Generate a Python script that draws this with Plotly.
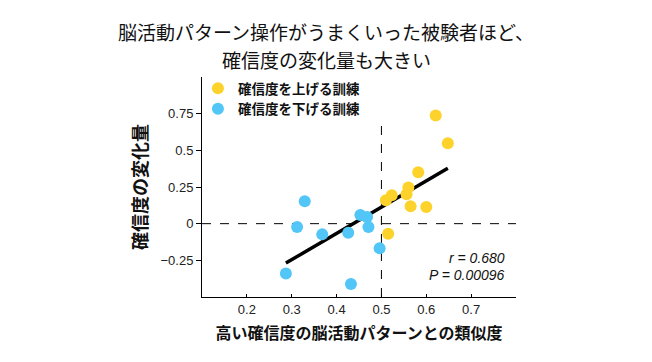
import numpy as np
import plotly.graph_objects as go

# --- data ---
up_x = [0.621, 0.648, 0.582, 0.560, 0.556, 0.523, 0.510, 0.565, 0.600, 0.515]
up_y = [0.737, 0.548, 0.351, 0.246, 0.200, 0.194, 0.160, 0.118, 0.114, -0.068]
down_x = [0.329, 0.312, 0.368, 0.426, 0.453, 0.468, 0.471, 0.496, 0.287, 0.432]
down_y = [0.153, -0.023, -0.073, -0.062, 0.059, 0.045, -0.023, -0.167, -0.340, -0.411]

x_ticks = [0.2, 0.3, 0.4, 0.5, 0.6, 0.7]
x_ticktext = ["0.2", "0.3", "0.4", "0.5", "0.6", "0.7"]
y_ticks = [-0.25, 0, 0.25, 0.5, 0.75]
y_ticktext = ["−0.25", "0", "0.25", "0.5", "0.75"]

title_lines = ["脳活動パターン操作がうまくいった被験者ほど、", "確信度の変化量も大きい"]
legend_names = ["確信度を上げる訓練", "確信度を下げる訓練"]
x_title = "高い確信度の脳活動パターンとの類似度"
y_title = "確信度の変化量"
stats_text = ["r = 0.680", "P = 0.00096"]

YELLOW = "#FDD22B"
BLUE = "#52C6F6"
FONT = "Liberation Sans, Arial, Noto Sans CJK JP"
CJK = "Noto Sans CJK JP, Liberation Sans"

# regression fit from all points
all_x = np.array(up_x + down_x)
all_y = np.array(up_y + down_y)
slope, intercept = np.polyfit(all_x, all_y, 1)
fit_x = np.array([all_x.min(), all_x.max()])
fit_y = slope * fit_x + intercept

L, R, T, B = 202, 136, 77, 65
PW, PH = 652 - L - R, 362 - T - B

fig = go.Figure()
fig.add_trace(go.Scatter(x=fit_x, y=fit_y, mode="lines",
                         line=dict(color="black", width=3.5), showlegend=False))
fig.add_trace(go.Scatter(x=up_x, y=up_y, mode="markers", name=legend_names[0],
                         marker=dict(color=YELLOW, size=12)))
fig.add_trace(go.Scatter(x=down_x, y=down_y, mode="markers", name=legend_names[1],
                         marker=dict(color=BLUE, size=12)))

# dashed reference lines
fig.add_shape(type="line", xref="x", yref="y", x0=0.1, x1=0.8, y0=0, y1=0,
              line=dict(color="black", width=1, dash="dash"), layer="below")
fig.add_shape(type="line", xref="x", yref="y", x0=0.5, x1=0.5, y0=-0.5, y1=0.72,
              line=dict(color="black", width=1, dash="dash"), layer="below")

fig.update_layout(
    width=652, height=362,
    margin=dict(l=L, r=R, t=T, b=B),
    paper_bgcolor="white", plot_bgcolor="white",
    font=dict(family=FONT, color="#222"),
    legend=dict(x=-0.013, y=1.018, xanchor="left", yanchor="top",
                font=dict(family=CJK, size=13.5, color="#111", weight="bold"),
                bgcolor="rgba(0,0,0,0)", tracegroupgap=0, itemsizing="trace"),
    xaxis=dict(range=[0.1, 0.8], tickvals=x_ticks, ticktext=x_ticktext,
               showgrid=False, zeroline=False, showline=True, linecolor="black",
               linewidth=1, ticks="inside", ticklen=3, tickcolor="black",
               tickfont=dict(size=13, color="#222"), automargin=False,
               title=dict(text=x_title, standoff=12,
                          font=dict(family=CJK, size=16, color="#111", weight="bold"))),
    yaxis=dict(range=[-0.5, 1.0], tickvals=y_ticks, ticktext=y_ticktext,
               showgrid=False, zeroline=False, showline=True, linecolor="black",
               linewidth=1, ticks="outside", ticklen=5, tickcolor="black",
               tickfont=dict(size=13, color="#222"), automargin=False,
               title=dict(text=y_title, standoff=8,
                          font=dict(family=CJK, size=18, color="#111", weight="bold"))),
)

for line, ypx in zip(title_lines, [31, 59]):
    fig.add_annotation(text=line, xref="paper", yref="paper",
                       x=(326 - L) / PW, y=1 + (T - ypx) / PH,
                       showarrow=False, xanchor="center", yanchor="middle",
                       font=dict(family=CJK, size=19, color="#111"))

for line, ypx in zip(stats_text, [258, 275]):
    fig.add_annotation(text="<i>" + line + "</i>", xref="paper", yref="paper",
                       x=(507 - L) / PW, y=(297 - ypx) / PH,
                       showarrow=False, xanchor="right", yanchor="middle",
                       font=dict(family="Liberation Sans, Arial", size=14, color="#111"))

fig.write_html("out.html", config={"displayModeBar": False},
               post_script="document.body.style.margin='0';document.body.style.overflow='hidden';")
